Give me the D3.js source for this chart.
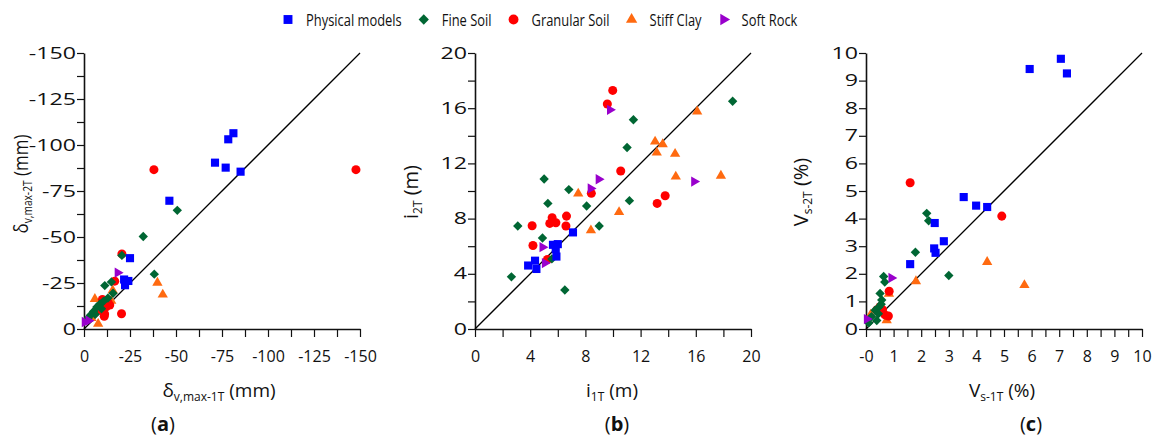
<!DOCTYPE html>
<html>
<head>
<meta charset="utf-8">
<script src="https://cdn.jsdelivr.net/npm/d3@7/dist/d3.min.js"></script>
<style>
	body { margin: 0; background: #fff; }
	svg { display: block; }
	text { font-family: "Open Sans", "Noto Sans", sans-serif; fill: #111; }
</style>
</head>
<body>
<svg id="chart" width="1160" height="444"></svg>
<script>
// series, in legend order
var seriesNames = ["Physical models", "Fine Soil", "Granular Soil", "Stiff Clay", "Soft Rock"];

// (a) max settlement, mm  [1T, 2T]
var aPhysical = [[-81.2,-106.4],[-78.4,-103.1],[-71.2,-90.4],[-77.0,-87.7],[-85.1,-85.5],[-46.4,-69.7],[-25.0,-38.5],[-21.8,-26.9],[-24.1,-26.1],[-22.3,-23.8]];
var aFine = [[-50.7,-64.5],[-32.2,-50.3],[-38.2,-29.8],[-20.6,-40.0],[-11.3,-23.6],[-14.9,-25.6],[-15.8,-19.4],[-13.0,-16.8],[-10.5,-15.0],[-8.7,-13.6],[-7.0,-12.0],[-5.2,-9.5],[-3.5,-7.5],[-2.2,-5.8],[-9.5,-11.0],[-6.0,-8.0]];
var aGranular = [[-38.0,-86.6],[-147.8,-86.6],[-20.6,-40.8],[-20.4,-8.3],[-16.7,-26.0],[-6.5,-9.6],[-9.0,-10.5],[-11.2,-8.2],[-12.1,-12.1],[-13.0,-14.6],[-11.0,-6.9],[-10.0,-16.0],[-14.0,-13.0]];
var aStiff = [[-39.9,-25.1],[-42.8,-18.7],[-5.9,-16.3],[-7.7,-2.8],[-15.6,-21.0],[-14.8,-15.4],[-9.0,-12.0],[-4.0,-6.0]];
var aSoftRock = [[-18.3,-30.6],[-0.4,-3.8],[-2.5,-4.5]];

// (b) trough width, m
var bPhysical = [[3.85,4.6],[4.35,4.95],[4.45,4.35],[5.65,6.1],[6.0,6.15],[5.85,5.8],[5.9,5.25],[7.1,7.0]];
var bFine = [[18.67,16.5],[11.48,15.16],[11.02,13.15],[5.01,10.87],[6.8,10.1],[5.28,9.1],[8.09,8.91],[11.19,9.3],[9.0,7.46],[3.1,7.46],[4.89,6.59],[2.64,3.78],[6.51,2.83],[5.57,5.08]];
var bGranular = [[9.98,17.29],[9.59,16.3],[10.56,11.45],[8.43,9.83],[13.78,9.66],[13.2,9.1],[4.14,7.48],[5.59,8.06],[5.42,7.65],[5.86,7.7],[6.63,8.18],[6.59,7.46],[4.2,6.05],[5.25,5.04]];
var bStiff = [[16.1,15.76],[13.05,13.58],[13.6,13.39],[13.17,12.78],[14.5,12.69],[14.55,11.04],[17.82,11.11],[7.48,9.81],[10.44,8.47],[8.4,7.15]];
var bSoftRock = [[9.78,15.88],[8.96,10.85],[8.38,10.19],[15.88,10.68],[4.89,5.93],[5.06,4.78]];

// (c) volume loss, %
var cPhysical = [[7.06,9.79],[5.93,9.42],[7.28,9.26],[3.54,4.78],[3.99,4.47],[4.39,4.42],[2.49,3.84],[2.82,3.18],[2.47,2.92],[2.52,2.76],[1.6,2.35]];
var cFine = [[2.2,4.19],[2.27,3.92],[1.79,2.78],[3.0,1.94],[0.64,1.9],[0.68,1.7],[0.51,1.29],[0.57,1.05],[0.33,0.68],[0.47,0.8],[0.1,0.22],[0.39,0.31],[0.55,0.9],[0.45,0.55],[0.2,0.45]];
var cGranular = [[1.6,5.3],[4.92,4.09],[0.84,1.37],[0.81,0.47],[0.51,0.81],[0.39,0.69],[0.69,0.51],[0.6,0.7]];
var cStiff = [[4.39,2.43],[5.74,1.59],[1.81,1.73],[0.83,1.28],[0.75,0.32],[0.17,0.52]];
var cSoftRock = [[0.92,1.85],[0.03,0.36]];

// tick labels
var aMajor = [0, -25, -50, -75, -100, -125, -150];
var aTickLabels = ["0", "-25", "-50", "-75", "-100", "-125", "-150"];
var bMajor = [0, 4, 8, 12, 16, 20];
var bTickLabels = ["0", "4", "8", "12", "16", "20"];
var cMajor = [0, 1, 2, 3, 4, 5, 6, 7, 8, 9, 10];
var cXTickLabels = ["-0", "1", "2", "3", "4", "5", "6", "7", "8", "9", "10"];
var cYTickLabels = ["0", "1", "2", "3", "4", "5", "6", "7", "8", "9", "10"];

var colors = {
	physical: "#0000ff",
	fine:     "#006633",
	granular: "#ff0000",
	stiff:    "#ff6a10",
	rock:     "#9900cc",
	axes:     "#111"
};

var shapes = [
	{ color: colors.physical, type: d3.symbolSquare,   size: 66, rotate: 0 },
	{ color: colors.fine,     type: d3.symbolSquare,   size: 44, rotate: 45 },
	{ color: colors.granular, type: d3.symbolCircle,   size: 64, rotate: 0 },
	{ color: colors.stiff,    type: d3.symbolTriangle, size: 46, rotate: 0 },
	{ color: colors.rock,     type: d3.symbolTriangle, size: 46, rotate: 90 }
];

var plotSize = 276, plotTop = 53;

var panels = [
	{
		left: 84, domain: [0, -150],
		xTicks: d3.range(0, -150.1, -12.5), xMajor: aMajor, xLabels: aTickLabels,
		yTicks: d3.range(0, -150.1, -12.5), yMajor: aMajor, yLabels: aTickLabels,
		series: [aPhysical, aFine, aGranular, aStiff, aSoftRock],
		xTitle: ["\u03b4", "v,max-1T", " (mm)"], yTitle: ["\u03b4", "v,max-2T", " (mm)"],
		xTitleX: 219, yTitleX: 28, yTitleY: 184, yTitleScale: 0.85, tag: "a", tagX: 163
	},
	{
		left: 475, domain: [0, 20],
		xTicks: d3.range(0, 20.1, 2), xMajor: bMajor, xLabels: bTickLabels,
		yTicks: d3.range(0, 20.1, 2), yMajor: bMajor, yLabels: bTickLabels,
		series: [bPhysical, bFine, bGranular, bStiff, bSoftRock],
		xTitle: ["i", "1T", " (m)"], yTitle: ["i", "2T", " (m)"],
		xTitleX: 612, yTitleX: 418, yTitleY: 192, yTitleScale: 1, tag: "b", tagX: 617
	},
	{
		left: 866, domain: [0, 10],
		xTicks: d3.range(0, 10.01, 0.5), xMajor: cMajor, xLabels: cXTickLabels,
		yTicks: cMajor, yMajor: cMajor, yLabels: cYTickLabels,
		series: [cPhysical, cFine, cGranular, cStiff, cSoftRock],
		xTitle: ["V", "s-1T", " (%)"], yTitle: ["V", "s-2T", " (%)"],
		xTitleX: 1002, yTitleX: 808, yTitleY: 192, yTitleScale: 1, tag: "c", tagX: 1031
	}
];

// draw order: back to front
var drawOrder = [3, 2, 1, 4, 0];

var svg = d3.select("#chart");

function symbolPath(i) {
	return d3.symbol().type(shapes[i].type).size(shapes[i].size)();
}

function labelFor(major, labels) {
	return function(d) {
		var i = major.indexOf(d);
		return i < 0 ? "" : labels[i];
	};
}

function addTitle(sel, parts, mainSize) {
	sel.append("tspan").text(parts[0]).attr("font-size", mainSize);
	sel.append("tspan").text(parts[1]).attr("font-size", 12).attr("dy", 4);
	sel.append("tspan").text(parts[2]).attr("font-size", mainSize).attr("dy", -4);
}

panels.forEach(function(p) {
	var x = d3.scaleLinear().domain(p.domain).range([p.left, p.left + plotSize]);
	var y = d3.scaleLinear().domain(p.domain).range([plotTop + plotSize, plotTop]);

	var g = svg.append("g");

	var xAxis = d3.axisBottom(x).tickValues(p.xTicks)
		.tickFormat(labelFor(p.xMajor, p.xLabels))
		.tickSize(8).tickSizeOuter(0).tickPadding(14);
	var yAxis = d3.axisLeft(y).tickValues(p.yTicks)
		.tickFormat(labelFor(p.yMajor, p.yLabels))
		.tickSize(7).tickSizeOuter(0).tickPadding(1);

	var xg = g.append("g").attr("transform", "translate(0," + (plotTop + plotSize) + ")").call(xAxis);
	var yg = g.append("g").attr("transform", "translate(" + p.left + ",0)").call(yAxis);

	[xg, yg].forEach(function(a) {
		a.selectAll(".domain").attr("stroke", colors.axes).attr("stroke-width", 1.6);
		a.selectAll(".tick line").attr("stroke", colors.axes).attr("stroke-width", 1.2);
		a.selectAll(".tick text")
			.attr("font-family", "'Open Sans', sans-serif")
			.attr("font-size", 16).attr("fill", "#111");
	});
	//y tick labels are drawn wider in the original
	yg.selectAll(".tick text")
		.attr("x", 0)
		.attr("transform", "translate(-8,0) scale(1.45,1)");

	// 1:1 line
	g.append("line")
		.attr("x1", x(p.domain[0])).attr("y1", y(p.domain[0]))
		.attr("x2", x(p.domain[1])).attr("y2", y(p.domain[1]))
		.attr("stroke", "#000").attr("stroke-width", 1.3);

	drawOrder.forEach(function(si) {
		g.append("g").selectAll("path")
			.data(p.series[si])
			.enter().append("path")
			.attr("d", symbolPath(si))
			.attr("fill", shapes[si].color)
			.attr("transform", function(d) {
				return "translate(" + x(d[0]) + "," + y(d[1]) + ") rotate(" + shapes[si].rotate + ")";
			});
	});

	// axis titles
	var xt = g.append("text")
		.attr("x", p.xTitleX).attr("y", 397)
		.attr("text-anchor", "middle");
	addTitle(xt, p.xTitle, 19);

	var yt = g.append("text")
		.attr("text-anchor", "middle")
		.attr("transform", "translate(" + p.yTitleX + "," + p.yTitleY + ") rotate(-90) scale(" + p.yTitleScale + ",1)");
	addTitle(yt, p.yTitle, 20);

	g.append("text")
		.attr("x", p.tagX).attr("y", 431)
		.attr("text-anchor", "middle")
		.attr("font-family", "'Liberation Serif', serif")
		.attr("font-size", 20)
		.html("(<tspan font-weight='bold'>" + p.tag + "</tspan>)");
});

// legend
var legend = svg.append("g");
var lx = 288, squeeze = 0.76;
seriesNames.forEach(function(name, i) {
	var item = legend.append("g").attr("transform", "translate(" + lx + ",19.5)");
	item.append("path")
		.attr("d", d3.symbol().type(shapes[i].type).size(shapes[i].size * 1.2)())
		.attr("fill", shapes[i].color)
		.attr("transform", "rotate(" + shapes[i].rotate + ")");
	var t = item.append("text")
		.attr("x", 0).attr("y", 0)
		.attr("font-size", 17)
		.attr("transform", "translate(18,6) scale(" + squeeze + ",1)")
		.text(name);
	lx += 18 + t.node().getComputedTextLength() * squeeze + 22;
});
</script>
</body>
</html>
